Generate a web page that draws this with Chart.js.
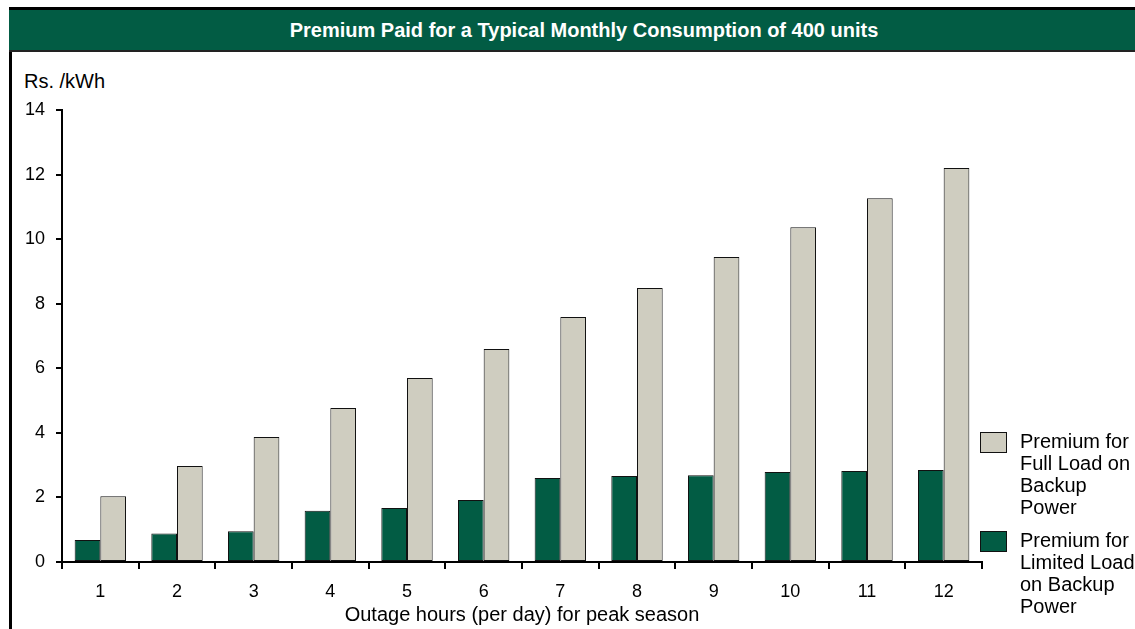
<!DOCTYPE html>
<html>
<head>
<meta charset="utf-8">
<script src="https://cdn.jsdelivr.net/npm/chart.js@4/dist/chart.umd.min.js"></script>
<style>
  body { margin: 0; width: 1135px; height: 629px; overflow: hidden; background: #fff; font-family: Arial, "Liberation Sans", sans-serif; position: relative; }
  #frameLeft { position: absolute; left: 9px; top: 7px; width: 3px; height: 622px; background: #000; }
  #titleBar { position: absolute; left: 9px; top: 7px; width: 1150px; height: 40px; background: #025c44; border-top: 3px solid #000; border-bottom: 2px solid #222;
    color: #fff; font-weight: bold; font-size: 20px; line-height: 40px; text-align: center; white-space: nowrap; }
  #yTitle { position: absolute; left: 24px; top: 70px; font-size: 20px; line-height: 23px; color: #000; }
  #chartBox { position: absolute; left: 12px; top: 52px; width: 1123px; height: 577px; }
  #legend { position: absolute; left: 980px; top: 430px; font-size: 20px; line-height: 22px; color: #000; }
  .item { position: relative; padding-left: 40px; white-space: nowrap; }
  .item + .item { margin-top: 11px; }
  .sw { position: absolute; left: 0; top: 2px; width: 25px; height: 19px; border: 1px solid #111; }
</style>
</head>
<body>
<div id="frameLeft"></div>
<div id="titleBar">Premium Paid for a Typical Monthly Consumption of 400 units</div>
<div id="yTitle">Rs. /kWh</div>
<div id="chartBox"><canvas id="premiumChart"></canvas></div>
<div id="legend">
  <div class="item"><div class="sw" style="background:#cfcdc0"></div>Premium for<br>Full Load on<br>Backup<br>Power</div>
  <div class="item"><div class="sw" style="background:#025c44"></div>Premium for<br>Limited Load<br>on Backup<br>Power</div>
</div>
<script>
// data
var jamPadam = ['1', '2', '3', '4', '5', '6', '7', '8', '9', '10', '11', '12'];
var premiLimited = [0.68, 0.88, 0.95, 1.59, 1.67, 1.92, 2.6, 2.66, 2.69, 2.79, 2.82, 2.85];
var premiFull = [2.04, 2.97, 3.87, 4.77, 5.7, 6.6, 7.59, 8.49, 9.45, 10.37, 11.27, 12.2];
var yTicks = [0, 2, 4, 6, 8, 10, 12, 14];

Chart.defaults.font.family = 'Arial, "Liberation Sans", sans-serif';
Chart.defaults.color = '#000';

var premiumChart = new Chart(document.getElementById('premiumChart'), {
    type: 'bar',
    data: {
        labels: jamPadam,
        datasets: [{
            label: 'Premium for Limited Load on Backup Power',
            data: premiLimited,
            backgroundColor: '#025c44',
            borderColor: '#111',
            borderWidth: 1,
            borderSkipped: false
        }, {
            label: 'Premium for Full Load on Backup Power',
            data: premiFull,
            backgroundColor: '#cfcdc0',
            borderColor: '#111',
            borderWidth: 1,
            borderSkipped: false
        }]
    },
    options: {
        responsive: true,
        maintainAspectRatio: false,
        animation: false,
        layout: { padding: { left: 0, right: 153, top: 58, bottom: 0 } },
        datasets: { bar: { barPercentage: 1, categoryPercentage: 0.67 } },
        plugins: { legend: { display: false }, tooltip: { enabled: false } },
        scales: {
            x: {
                grid: { drawOnChartArea: false, drawTicks: true, tickLength: 7, color: '#000', lineWidth: 2, offset: true },
                border: { color: '#000', width: 2 },
                ticks: { font: { size: 18 }, padding: 12, maxRotation: 0 },
                title: { display: true, text: 'Outage hours (per day) for peak season', font: { size: 20 }, padding: { top: 0, bottom: 2 } },
                afterFit: function (s) { s.height = 67; }
            },
            y: {
                min: 0,
                max: 14,
                afterBuildTicks: function (s) { s.ticks = yTicks.map(function (v) { return { value: v }; }); },
                grid: { drawOnChartArea: false, drawTicks: true, tickLength: 6, color: '#000', lineWidth: 2 },
                border: { color: '#000', width: 2 },
                ticks: { font: { size: 18 }, padding: 11 },
                afterFit: function (s) { s.width = 50; }
            }
        }
    }
});
</script>
</body>
</html>
